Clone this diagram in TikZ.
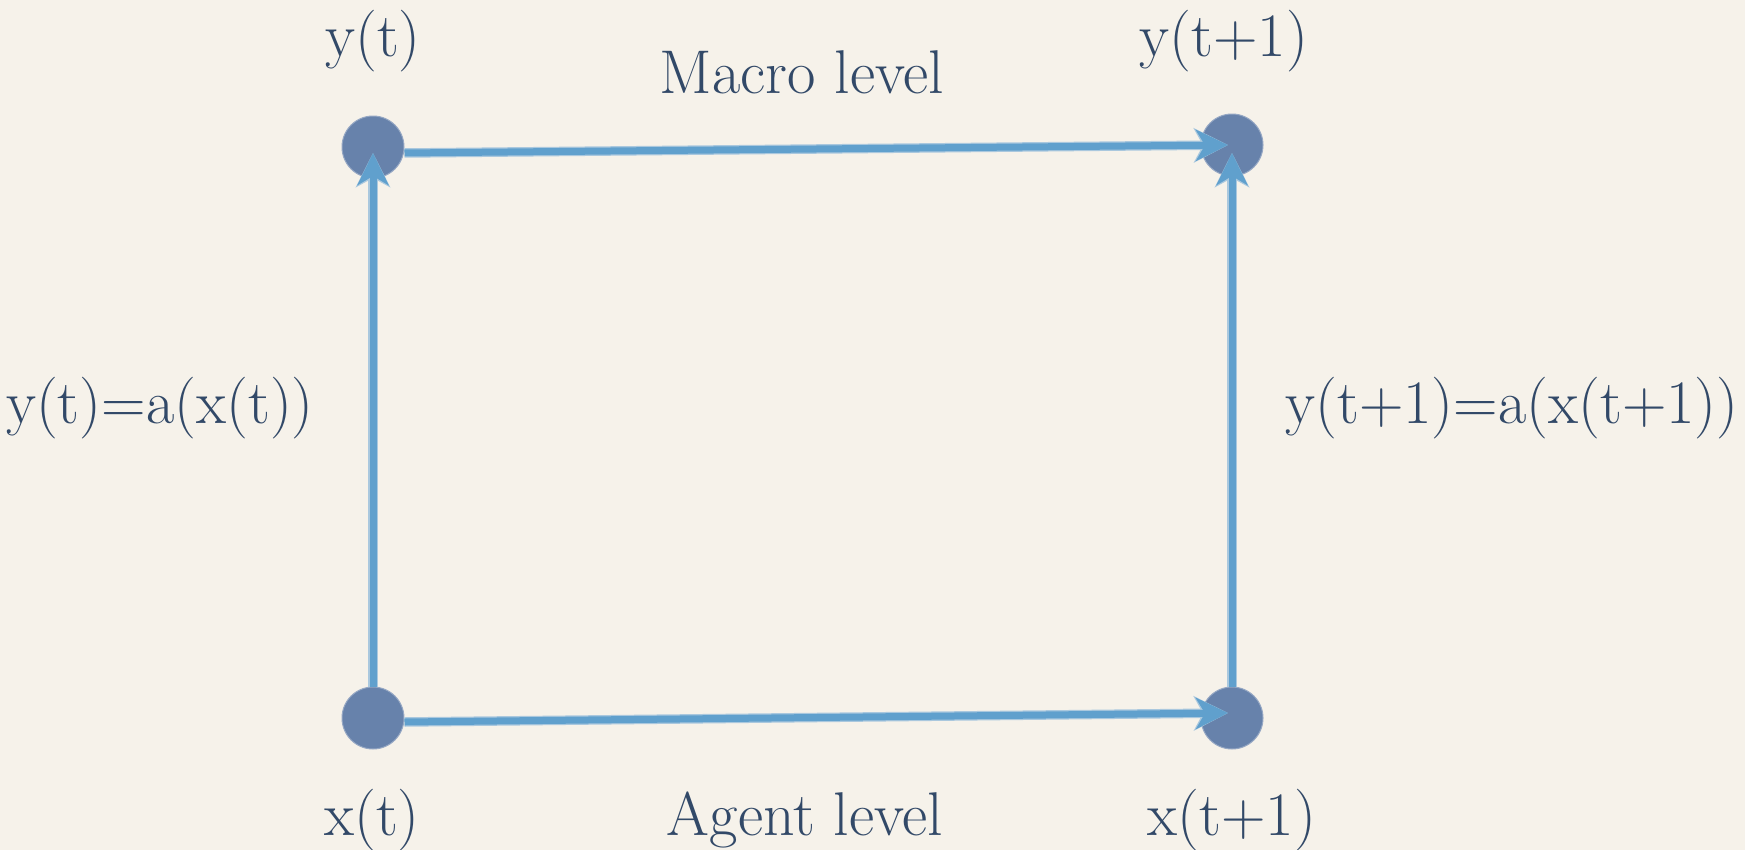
\documentclass[tikz,border=0pt]{standalone}
\usetikzlibrary{arrows.meta}

\definecolor{paper}{RGB}{246,242,234}
\definecolor{statefill}{RGB}{103,130,171}
\definecolor{staterim}{RGB}{150,168,196}
\definecolor{flow}{RGB}{96,160,205}
\definecolor{flowhalo}{RGB}{170,200,222}
\definecolor{ink}{RGB}{50,73,104}

\tikzset{
  state/.style={circle, fill=statefill, draw=staterim, line width=1bp,
    minimum size=62bp, inner sep=0pt},
  lbl/.style={text=ink, font=\fontsize{62}{68}\selectfont, anchor=base, inner sep=0pt},
  flowarrow/.style={draw=flow, line width=7bp,
    -{Stealth[length=32bp, width=31bp, inset=9bp]},
    preaction={draw=flowhalo, line width=9.5bp, -{Stealth[length=34bp, width=34bp, inset=9bp]}}}
}

\begin{document}
\begin{tikzpicture}[x=1bp, y=-1bp]
  \fill[paper] (0,0) rectangle (1745,850);
  \useasboundingbox (0,0) rectangle (1745,850);

  % states at the two levels
  \node[state] (yt)  at (373,147) {};
  \node[state] (yt1) at (1232,145) {};
  \node[state] (xt)  at (373,718) {};
  \node[state] (xt1) at (1232,718) {};

  % labels
  \node[lbl] (lyt)    at (373,56)  {y(t)};
  \node[lbl] (lyt1)   at (1224,56) {y(t+1)};
  \node[lbl] (lmacro) at (802,93)  {Macro level};
  \node[lbl] (lxt)    at (372,835) {x(t)};
  \node[lbl] (lxt1)   at (1232,835) {x(t+1)};
  \node[lbl] (lagent) at (805,835) {Agent level};
  \node[lbl] (lmapl)  at (160,423) {y(t)=a(x(t))};
  \node[lbl] (lmapr)  at (1512,423) {y(t+1)=a(x(t+1))};

  % transitions and aggregation maps (drawing y axis points down, so a
  % negative yshift moves a point lower on the page)
  \draw[flowarrow] ([yshift=-6bp]yt.east) -- ([xshift=-4bp]yt1.center);
  \draw[flowarrow] ([yshift=-4bp]xt.east) -- ([xshift=-4bp,yshift=5bp]xt1.center);
  \draw[flowarrow] (xt.north) -- ([yshift=-6bp]yt.center);
  \draw[flowarrow] (xt1.north) -- ([yshift=-8bp]yt1.center);
\end{tikzpicture}
\end{document}
